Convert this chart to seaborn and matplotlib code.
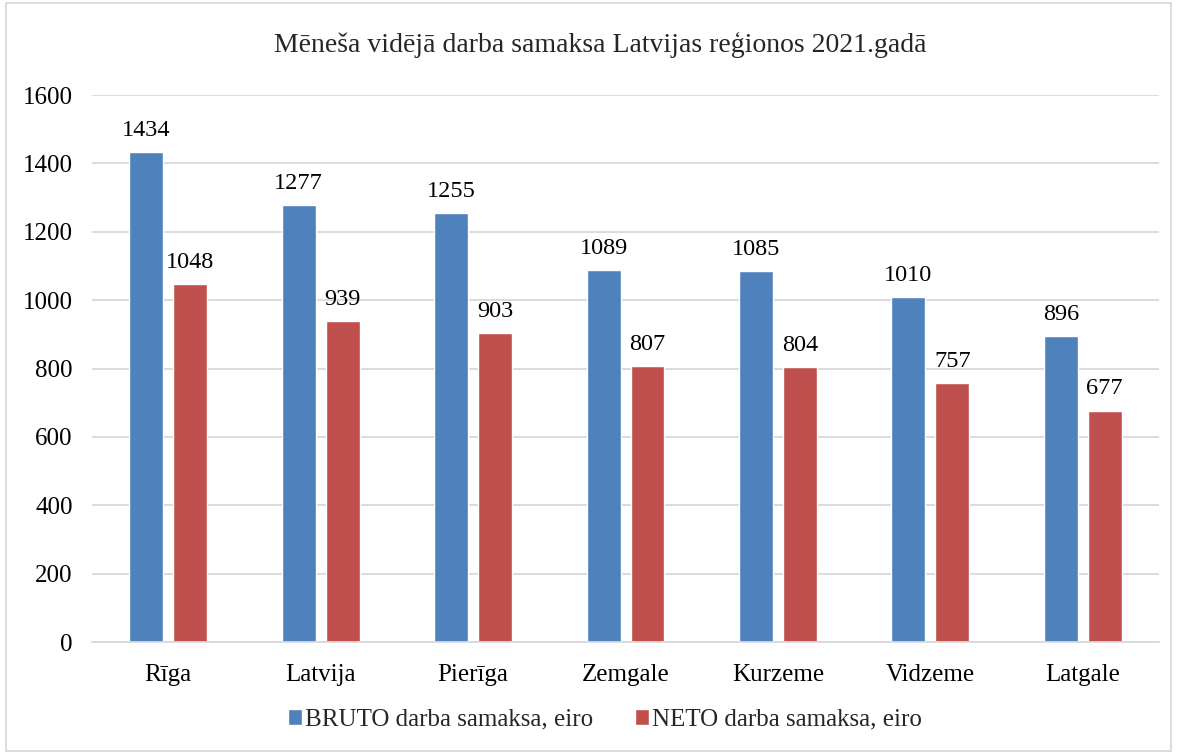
import pandas as pd
import matplotlib.pyplot as plt
import seaborn as sns
from matplotlib.patches import Rectangle

regions = ["Rīga", "Latvija", "Pierīga", "Zemgale", "Kurzeme", "Vidzeme", "Latgale"]
bruto = [1434, 1277, 1255, 1089, 1085, 1010, 896]
neto = [1048, 939, 903, 807, 804, 757, 677]
series_names = ["BRUTO darba samaksa, eiro", "NETO darba samaksa, eiro"]
colors = ["#4F81BD", "#C0504D"]

df = pd.DataFrame({
    "region": regions * 2,
    "value": bruto + neto,
    "series": [series_names[0]] * len(regions) + [series_names[1]] * len(regions),
})

sns.set_theme(style="white")
plt.rcParams["font.family"] = ["Liberation Serif", "DejaVu Serif"]

fig = plt.figure(figsize=(11.77, 7.53), dpi=100)
ax = fig.add_axes([0.0782, 0.1474, 0.9065, 0.7264])

sns.barplot(data=df, x="region", y="value", hue="series", palette=colors,
            width=0.577, gap=0.227, saturation=1, ax=ax, legend=True)

for cont in ax.containers:
    ax.bar_label(cont, padding=8, fontsize=17.5, color="black")

ax.set_ylim(0, 1600)
ax.set_xlim(-0.5, len(regions) - 0.5)
ax.set_yticks(range(0, 1601, 200))
ax.yaxis.grid(True, color="#D9D9D9", linewidth=1.3)
ax.set_axisbelow(True)
for s in ["left", "right", "top"]:
    ax.spines[s].set_visible(False)
ax.spines["bottom"].set_color("#D9D9D9")
ax.spines["bottom"].set_linewidth(1.3)
ax.tick_params(axis="both", length=0, labelsize=18, colors="black")
ax.tick_params(axis="x", pad=16)
ax.tick_params(axis="y", pad=14)
ax.set_xlabel("")
ax.set_ylabel("")

handles, labels = ax.get_legend_handles_labels()
ax.legend_.remove()
fig.legend(handles, labels, loc="center", bbox_to_anchor=(0.514, 0.044), ncol=2,
           frameon=False, fontsize=18, handlelength=0.55, handleheight=0.55,
           handletextpad=0.1, columnspacing=1.7)

fig.text(0.51, 0.94, "Mēneša vidējā darba samaksa Latvijas reģionos 2021.gadā",
         ha="center", va="center", fontsize=20)

fig.patches.append(Rectangle((0.005, 0.002), 0.99, 0.994, transform=fig.transFigure,
                             fill=False, edgecolor="#D9D9D9", linewidth=1.3))

fig.savefig("out.png", dpi=100)
